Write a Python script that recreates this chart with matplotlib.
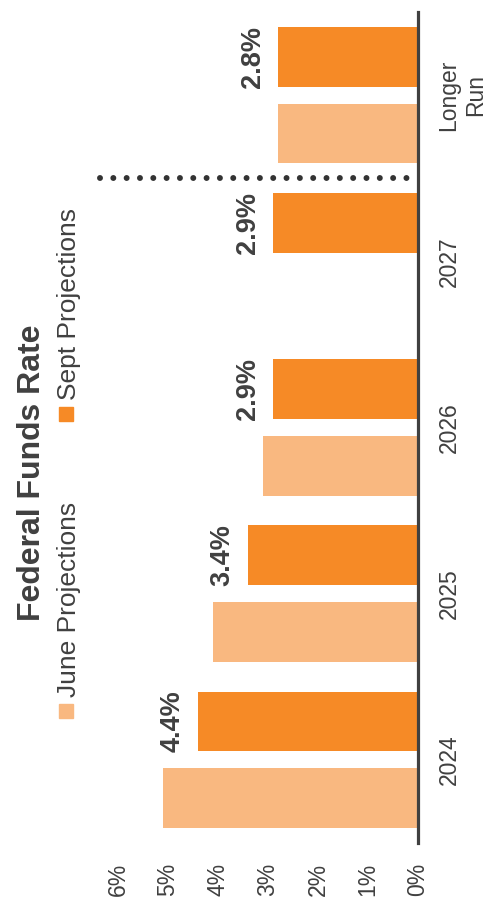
import matplotlib.pyplot as plt
import numpy as np
from matplotlib.patches import Rectangle

plt.rcParams['font.family'] = ['Liberation Sans', 'DejaVu Sans']

# Fed projections (median), percent
categories = ['2024', '2025', '2026', '2027', 'Longer\nRun']
june = [5.1, 4.1, 3.1, np.nan, 2.8]
sept = [4.4, 3.4, 2.9, 2.9, 2.8]
value_ticks = [0, 1, 2, 3, 4, 5, 6]

june_color = '#F9B880'
sept_color = '#F68A26'
text_color = '#404040'

W, H = 491, 921
fig = plt.figure(figsize=(W / 100, H / 100), dpi=100)
# axes box in pixel terms: x 118..418 (6%..0%), y 12..843 from top
ax = fig.add_axes([118 / W, 1 - 843 / H, 300 / W, 831 / H])

y = np.arange(len(categories))
bh = 0.36
off = 0.231
ax.barh(y - off, june, height=bh, color=june_color)
ax.barh(y + off, sept, height=bh, color=sept_color)

# labels on the September bars
for yi, v in zip(y, sept):
    ax.annotate(f'{v:.1f}%', xy=(v, yi + off), xytext=(-9, 0),
                textcoords='offset points', ha='right', va='center',
                rotation=90, fontsize=19.5, fontweight='bold', color=text_color)

# separator before the longer-run projection
ax.plot([6.36, 0.2], [3.5, 3.5], color='#333333', linewidth=4.3,
        linestyle=(0, (0.001, 2.23)), dash_capstyle='round', clip_on=False)

ax.set_xlim(6, 0)
ax.set_ylim(-0.5, 4.5)

ax.set_xticks(value_ticks)
ax.set_xticklabels([f'{t}%' for t in value_ticks], rotation=90,
                   fontsize=16.5, color=text_color)
ax.yaxis.tick_right()
ax.set_yticks(y)
ax.set_yticklabels(categories, rotation=90, fontsize=16.5, color=text_color,
                   va='center', multialignment='center')
ax.tick_params(axis='x', length=0, pad=14)
ax.tick_params(axis='y', length=0, pad=14)

for s in ['top', 'bottom', 'left']:
    ax.spines[s].set_visible(False)
ax.spines['right'].set_color(text_color)
ax.spines['right'].set_linewidth(2.3)

fig.text(32 / W, 1 - 473 / H, 'Federal Funds Rate', rotation=90,
         ha='center', va='center', fontsize=23, fontweight='bold', color=text_color)

# legend
legend_items = [('June Projections', june_color, 711), ('Sept Projections', sept_color, 414)]
for label, color, yc in legend_items:
    fig.patches.append(Rectangle(((66 - 7) / W, 1 - (yc + 7) / H), 14 / W, 14 / H,
                                 transform=fig.transFigure, color=color))
    fig.text(69 / W, 1 - (yc - 14) / H, label, rotation=90, ha='center',
             va='bottom', fontsize=19, color=text_color)

fig.savefig('out.png', dpi=100)
